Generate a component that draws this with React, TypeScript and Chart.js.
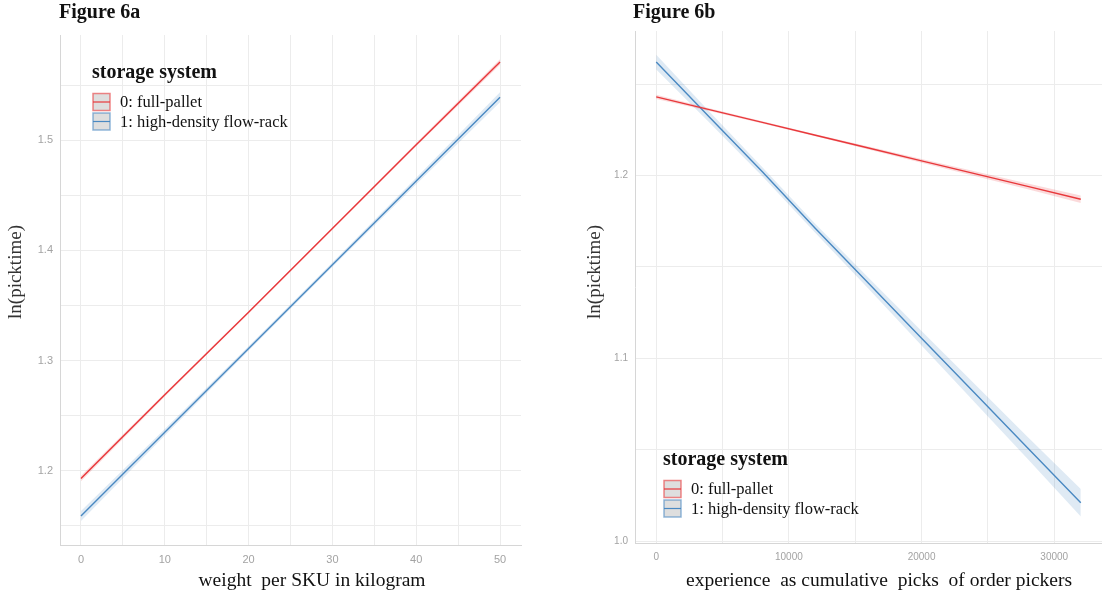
import React, { useEffect, useRef } from "react";
import { Chart, registerables } from "chart.js";
Chart.register(...registerables);

// ---------- data ----------
const seriesLabels = ["0: full-pallet", "1: high-density flow-rack"];
const legendTitle = "storage system";
const yTitle = "ln(picktime)";
const figTitleA = "Figure 6a";
const figTitleB = "Figure 6b";
const xTitleA = "weight  per SKU in kilogram";
const xTitleB = "experience  as cumulative  picks  of order pickers";

// Figure 6a
const weightKg = [0, 10, 20, 30, 40, 50];
const fullPalletA = [1.193, 1.269, 1.344, 1.42, 1.496, 1.571];
const fullPalletAHi = [1.1955, 1.2705, 1.345, 1.421, 1.4975, 1.5735];
const fullPalletALo = [1.1905, 1.2675, 1.343, 1.419, 1.4945, 1.5685];
const flowRackA = [1.159, 1.235, 1.311, 1.387, 1.463, 1.539];
const flowRackAHi = [1.1635, 1.238, 1.313, 1.389, 1.466, 1.5435];
const flowRackALo = [1.1545, 1.232, 1.309, 1.385, 1.46, 1.5345];
const xGridA = [0, 5, 10, 15, 20, 25, 30, 35, 40, 45, 50];
const xTickLabelsA = [0, 10, 20, 30, 40, 50];
const yGridA = [1.15, 1.2, 1.25, 1.3, 1.35, 1.4, 1.45, 1.5, 1.55];
const yTickLabelsA = [1.2, 1.3, 1.4, 1.5];

// Figure 6b
const experiencePicks = [0, 4000, 8000, 12000, 16000, 20000, 24000, 28000, 32000];
const fullPalletB = [1.243, 1.236, 1.229, 1.222, 1.215, 1.208, 1.201, 1.194, 1.187];
const fullPalletBHi = [1.2442, 1.2368, 1.2296, 1.2226, 1.2158, 1.209, 1.2023, 1.1956, 1.189];
const fullPalletBLo = [1.2418, 1.2352, 1.2284, 1.2214, 1.2142, 1.207, 1.1997, 1.1924, 1.185];
const flowRackB = [1.262, 1.232, 1.202, 1.171, 1.141, 1.111, 1.081, 1.051, 1.021];
const flowRackBHi = [1.266, 1.235, 1.2045, 1.1735, 1.144, 1.115, 1.086, 1.057, 1.0285];
const flowRackBLo = [1.258, 1.229, 1.1995, 1.1685, 1.138, 1.107, 1.076, 1.045, 1.0135];
const xGridB = [0, 5000, 10000, 15000, 20000, 25000, 30000];
const xTickLabelsB = [0, 10000, 20000, 30000];
const yGridB = [1.0, 1.05, 1.1, 1.15, 1.2, 1.25];
const yTickLabelsB = [1.0, 1.1, 1.2];

// ---------- styles ----------
const RED = "#e8383b";
const BLUE = "#4a89c2";
const RED_FILL = "rgba(228,26,28,0.16)";
const BLUE_FILL = "rgba(55,126,184,0.16)";
const SERIF = '"Liberation Serif", "Times New Roman", serif';
const SANS = '"Liberation Sans", Arial, sans-serif';

type PanelCfg = {
  offsetX: number;
  width: number;
  xs: number[];
  lines: number[][];
  his: number[][];
  los: number[][];
  xMin: number;
  xMax: number;
  xGrid: number[];
  yMin: number;
  yMax: number;
  yGrid: number[];
  xLabels: number[];
  yLabels: number[];
  tickSize: number;
  pad: { left: number; right: number; top: number };
  yAxisWidth: number;
  xAxisHeight: number;
  title: string;
  titlePos: [number, number];
  yTitlePos: [number, number];
  xTitle: string;
  xTitlePos: [number, number];
  legendPos: [number, number];
};

const near = (v: number, list: number[]) =>
  list.some((t) => Math.abs(t - v) < 1e-6 * Math.max(1, Math.abs(t)));

function overlayPlugin(cfg: PanelCfg) {
  return {
    id: "overlay" + cfg.offsetX,
    afterDraw(chart: any) {
      const ctx: CanvasRenderingContext2D = chart.ctx;
      const ox = cfg.offsetX;
      ctx.save();
      // Figure title
      ctx.fillStyle = "#111";
      ctx.font = `bold 20px ${SERIF}`;
      ctx.textAlign = "left";
      ctx.textBaseline = "alphabetic";
      ctx.fillText(cfg.title, cfg.titlePos[0] - ox, cfg.titlePos[1]);
      // y title
      ctx.save();
      ctx.translate(cfg.yTitlePos[0] - ox, cfg.yTitlePos[1]);
      ctx.rotate(-Math.PI / 2);
      ctx.font = `19px ${SERIF}`;
      ctx.fillStyle = "#333";
      ctx.textAlign = "center";
      ctx.textBaseline = "middle";
      ctx.fillText(yTitle, 0, 0);
      ctx.restore();
      // x title
      ctx.font = `19.5px ${SERIF}`;
      ctx.fillStyle = "#111";
      ctx.textAlign = "center";
      ctx.textBaseline = "middle";
      ctx.fillText(cfg.xTitle, cfg.xTitlePos[0] - ox, cfg.xTitlePos[1]);
      // legend
      const lx = cfg.legendPos[0] - ox;
      const ly = cfg.legendPos[1];
      ctx.textAlign = "left";
      ctx.textBaseline = "middle";
      ctx.font = `bold 20px ${SERIF}`;
      ctx.fillStyle = "#111";
      ctx.fillText(legendTitle, lx, ly);
      const colors = [RED, BLUE];
      const borders = ["rgba(232,56,59,0.6)", "rgba(74,137,194,0.6)"];
      seriesLabels.forEach((lab, k) => {
        const cy = ly + 29 + k * 19.5;
        const bx = lx + 1;
        ctx.fillStyle = "#dedede";
        ctx.fillRect(bx, cy - 8.5, 17, 17);
        ctx.strokeStyle = borders[k];
        ctx.lineWidth = 1.5;
        ctx.strokeRect(bx, cy - 8.5, 17, 17);
        ctx.strokeStyle = colors[k];
        ctx.lineWidth = 1.2;
        ctx.beginPath();
        ctx.moveTo(bx, cy);
        ctx.lineTo(bx + 17, cy);
        ctx.stroke();
        ctx.font = `16.5px ${SERIF}`;
        ctx.fillStyle = "#111";
        ctx.fillText(lab, lx + 28, cy + 1);
      });
      ctx.restore();
    },
  };
}

function buildDatasets(cfg: PanelCfg) {
  const colors = [RED, BLUE];
  const fills = [RED_FILL, BLUE_FILL];
  const ds: any[] = [];
  cfg.lines.forEach((line, k) => {
    ds.push({
      label: seriesLabels[k],
      data: cfg.xs.map((x, i) => ({ x, y: line[i] })),
      borderColor: colors[k],
      borderWidth: 1.4,
      pointRadius: 0,
      fill: false,
      tension: 0,
    });
  });
  cfg.lines.forEach((_, k) => {
    ds.push({
      label: "upper " + k,
      data: cfg.xs.map((x, i) => ({ x, y: cfg.his[k][i] })),
      borderWidth: 0,
      borderColor: "rgba(0,0,0,0)",
      backgroundColor: fills[k],
      pointRadius: 0,
      fill: "+1",
      tension: 0,
    });
    ds.push({
      label: "lower " + k,
      data: cfg.xs.map((x, i) => ({ x, y: cfg.los[k][i] })),
      borderWidth: 0,
      borderColor: "rgba(0,0,0,0)",
      pointRadius: 0,
      fill: false,
      tension: 0,
    });
  });
  return ds;
}

function Panel({ cfg }: { cfg: PanelCfg }) {
  const ref = useRef<HTMLCanvasElement>(null);
  useEffect(() => {
    if (!ref.current) return;
    const grid = { color: "#ececec", lineWidth: 1, drawTicks: false };
    const border = { display: true, color: "#d6d6d6", width: 1 };
    const chart = new Chart(ref.current, {
      type: "line",
      data: { datasets: buildDatasets(cfg) },
      options: {
        animation: false,
        responsive: false,
        devicePixelRatio: 1,
        layout: { padding: { left: cfg.pad.left, right: cfg.pad.right, top: cfg.pad.top, bottom: 0 } },
        plugins: { legend: { display: false }, tooltip: { enabled: false }, title: { display: false } },
        scales: {
          x: {
            type: "linear",
            min: cfg.xMin,
            max: cfg.xMax,
            grid,
            border,
            afterFit: (s: any) => {
              s.height = cfg.xAxisHeight;
            },
            afterBuildTicks: (s: any) => {
              s.ticks = cfg.xGrid.map((v) => ({ value: v }));
            },
            ticks: {
              autoSkip: false,
              maxRotation: 0,
              minRotation: 0,
              padding: 8,
              color: "#a3a3a3",
              font: { family: SANS, size: cfg.tickSize },
              callback: (v: any) => (near(Number(v), cfg.xLabels) ? String(Math.round(Number(v))) : ""),
            },
          },
          y: {
            type: "linear",
            min: cfg.yMin,
            max: cfg.yMax,
            grid,
            border,
            afterFit: (s: any) => {
              s.width = cfg.yAxisWidth;
            },
            afterBuildTicks: (s: any) => {
              s.ticks = cfg.yGrid.map((v) => ({ value: v }));
            },
            ticks: {
              autoSkip: false,
              padding: 7,
              color: "#a3a3a3",
              font: { family: SANS, size: cfg.tickSize },
              callback: (v: any) => (near(Number(v), cfg.yLabels) ? Number(v).toFixed(1) : ""),
            },
          },
        },
      } as any,
      plugins: [overlayPlugin(cfg)],
    });
    return () => chart.destroy();
  }, [cfg]);
  return (
    <canvas
      ref={ref}
      width={cfg.width}
      height={594}
      style={{ position: "absolute", left: cfg.offsetX, top: 0, width: cfg.width, height: 594 }}
    />
  );
}

const panelA: PanelCfg = {
  offsetX: 0,
  width: 550,
  xs: weightKg,
  lines: [fullPalletA, flowRackA],
  his: [fullPalletAHi, flowRackAHi],
  los: [fullPalletALo, flowRackALo],
  xMin: -2.5,
  xMax: 52.5,
  xGrid: xGridA,
  yMin: 1.1327,
  yMax: 1.5955,
  yGrid: yGridA,
  xLabels: xTickLabelsA,
  yLabels: yTickLabelsA,
  tickSize: 11,
  pad: { left: 0, right: 29, top: 35 },
  yAxisWidth: 60,
  xAxisHeight: 49,
  title: figTitleA,
  titlePos: [59, 18],
  yTitlePos: [16, 272],
  xTitle: xTitleA,
  xTitlePos: [312, 581],
  legendPos: [92, 73],
};

const panelB: PanelCfg = {
  offsetX: 550,
  width: 552,
  xs: experiencePicks,
  lines: [fullPalletB, flowRackB],
  his: [fullPalletBHi, flowRackBHi],
  los: [fullPalletBLo, flowRackBLo],
  xMin: -1600,
  xMax: 33600,
  xGrid: xGridB,
  yMin: 0.999,
  yMax: 1.279,
  yGrid: yGridB,
  xLabels: xTickLabelsB,
  yLabels: yTickLabelsB,
  tickSize: 10,
  pad: { left: 0, right: 0, top: 31 },
  yAxisWidth: 85,
  xAxisHeight: 51,
  title: figTitleB,
  titlePos: [633, 18],
  yTitlePos: [595, 272],
  xTitle: xTitleB,
  xTitlePos: [879, 581],
  legendPos: [663, 460],
};

export default function App() {
  return (
    <div style={{ position: "absolute", left: 0, top: 0, width: 1102, height: 594, background: "#fff", overflow: "hidden" }}>
      <Panel cfg={panelA} />
      <Panel cfg={panelB} />
    </div>
  );
}
